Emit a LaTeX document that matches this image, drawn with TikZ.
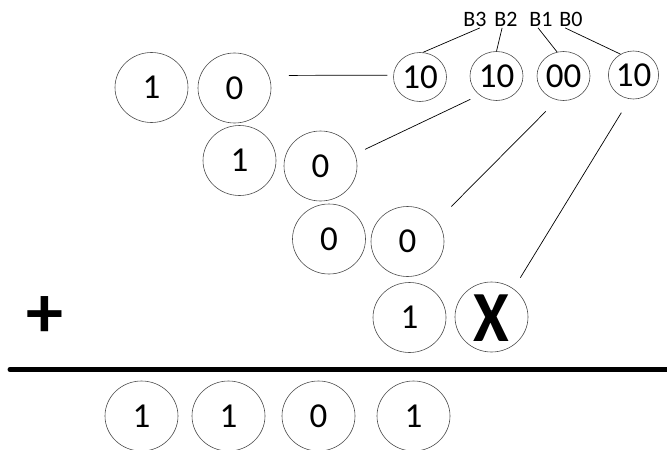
\documentclass[tikz,border=0pt]{standalone}
\usepackage{fontspec}
\setmainfont{Carlito}
\usetikzlibrary{shapes.geometric}
\definecolor{ghost}{RGB}{70,80,100}
\begin{document}
\begin{tikzpicture}[x=1pt,y=-1pt,
  bit/.style={ellipse, draw=black!70, line width=0.6pt, minimum width=73pt,
    minimum height=70pt, inner sep=0pt, font=\fontsize{35}{35}\selectfont},
  pair/.style={bit, minimum width=53pt, minimum height=49pt},
  lbl/.style={inner sep=1pt, font=\fontsize{22}{22}\selectfont},
  wire/.style={draw=black, line width=0.7pt},
  big/.style={inner sep=0pt, font=\bfseries\fontsize{74}{74}\selectfont}]
\useasboundingbox (0,0) rectangle (667,450);

% bit labels
\node[lbl] (b3) at (475,19.5) {B3};
\node[lbl] (b2) at (506,19.5) {B2};
\node[lbl] (b1) at (541,19.5) {B1};
\node[lbl] (b0) at (571,19.5) {B0};

% two-bit groups
\node[pair] (t1) at (420,77) {10};
\node[pair] (t2) at (496.5,76) {10};
\node[pair] (t3) at (563.5,76) {00};
\node[pair, minimum width=49pt, minimum height=48pt] (t4) at (633.5,75) {10};

% partial rows
\node[bit] (r1a) at (151.5,87.5) {1};
\node[bit] (r1b) at (234.5,88) {0};
\node[bit] (r2a) at (239.5,160.5) {1};
\node[bit] (r2b) at (320.5,166) {0};
\node[bit] (r3a) at (329,239) {0};
\node[bit] (r3b) at (407.5,241.5) {0};
\node[bit] (r4a) at (409.5,317.5) {1};
\node[bit, text=ghost] (r4b) at (491.5,317) {\fontsize{20}{20}\selectfont 0};
\node[big, xscale=0.9, font=\bfseries\fontsize{72}{72}\selectfont] (cross) at (491.5,318) {X};

% plus sign and sum rule
\node[big] (plus) at (45,317) {+};
\draw[line width=5pt, line cap=round] (10,369.5) -- (690,369.5);

% sum
\node[bit] (s1) at (141.5,416) {1};
\node[bit] (s2) at (228.5,416) {1};
\node[bit] (s3) at (318.5,416) {0};
\node[bit] (s4) at (413.5,416) {1};

% connectors
\draw[wire] (b3.300) -- (t1.83);
\draw[wire] (b2.245) -- (t2.north);
\draw[wire] (b1.250) -- (t3.105);
\draw[wire] (b0.235) -- (t4.122);
\draw[wire, shorten <=20pt, shorten >=6pt] (r1b.20) -- (t1.176);
\draw[wire, shorten <=11pt, shorten >=10pt] (r2b.19) -- (t2.228);
\draw[wire, shorten <=20pt, shorten >=16pt] (r3b.35) -- (t3.255);
\draw[wire, shorten <=13pt, shorten >=16pt] (r4b.52) -- (t4.261);
\end{tikzpicture}
\end{document}
